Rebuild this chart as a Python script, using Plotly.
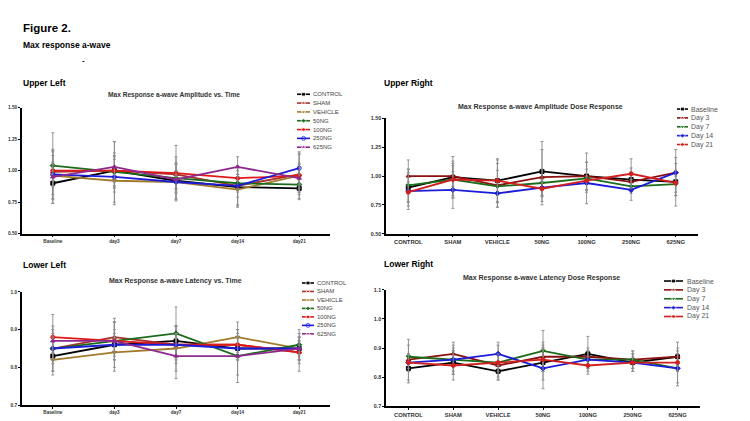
import plotly.graph_objects as go

# The page body has an 8px margin, so the figure is sized to fit inside the window
OFF = 8
VW, VH = 750, 421
W, H = VW - OFF, VH - OFF
FONT = "Liberation Sans, Arial, sans-serif"

# ---------------- data ----------------
time_points = ["Baseline", "day3", "day7", "day14", "day21"]
day_labels = ["Baseline", "Day 3", "Day 7", "Day 14", "Day 21"]
groups = ["CONTROL", "SHAM", "VEHICLE", "50NG", "100NG", "250NG", "625NG"]

# Max response a-wave amplitude (per group, Baseline..day21)
amp_control = [0.90, 1.00, 0.92, 0.87, 0.86]
amp_sham = [0.99, 1.00, 0.97, 0.88, 0.97]
amp_vehicle = [0.96, 0.92, 0.91, 0.85, 0.96]
amp_50ng = [1.04, 0.99, 0.94, 0.90, 0.89]
amp_100ng = [1.00, 1.00, 0.98, 0.94, 0.96]
amp_250ng = [0.97, 0.95, 0.91, 0.88, 1.02]
amp_625ng = [0.95, 1.03, 0.93, 1.03, 0.94]

amp_err_control = [0.16, 0.14, 0.14, 0.16, 0.09]
amp_err_sham = [0.18, 0.09, 0.14, 0.16, 0.16]
amp_err_vehicle = [0.19, 0.19, 0.14, 0.12, 0.18]
amp_err_50ng = [0.26, 0.24, 0.12, 0.07, 0.06]
amp_err_100ng = [0.12, 0.12, 0.22, 0.06, 0.10]
amp_err_250ng = [0.10, 0.08, 0.06, 0.09, 0.13]
amp_err_625ng = [0.21, 0.20, 0.07, 0.08, 0.11]

# Max response a-wave latency (per group, Baseline..day21)
lat_control = [0.83, 0.86, 0.87, 0.85, 0.85]
lat_sham = [0.85, 0.88, 0.86, 0.86, 0.84]
lat_vehicle = [0.82, 0.84, 0.85, 0.88, 0.85]
lat_50ng = [0.85, 0.87, 0.89, 0.83, 0.86]
lat_100ng = [0.88, 0.87, 0.86, 0.86, 0.84]
lat_250ng = [0.85, 0.86, 0.86, 0.85, 0.85]
lat_625ng = [0.87, 0.87, 0.83, 0.83, 0.85]

lat_err_control = [0.05, 0.07, 0.04, 0.03, 0.03]
lat_err_sham = [0.04, 0.04, 0.05, 0.04, 0.05]
lat_err_vehicle = [0.03, 0.04, 0.06, 0.04, 0.03]
lat_err_50ng = [0.06, 0.05, 0.07, 0.07, 0.04]
lat_err_100ng = [0.06, 0.03, 0.03, 0.03, 0.03]
lat_err_250ng = [0.03, 0.03, 0.03, 0.03, 0.02]
lat_err_625ng = [0.03, 0.05, 0.06, 0.05, 0.03]

amp_series = [amp_control, amp_sham, amp_vehicle, amp_50ng, amp_100ng, amp_250ng, amp_625ng]
amp_errs = [amp_err_control, amp_err_sham, amp_err_vehicle, amp_err_50ng,
            amp_err_100ng, amp_err_250ng, amp_err_625ng]
lat_series = [lat_control, lat_sham, lat_vehicle, lat_50ng, lat_100ng, lat_250ng, lat_625ng]
lat_errs = [lat_err_control, lat_err_sham, lat_err_vehicle, lat_err_50ng,
            lat_err_100ng, lat_err_250ng, lat_err_625ng]

# ---------------- styles ----------------
group_colors = ["#000000", "#A8322C", "#A27A2E", "#1B6B1B", "#E01818", "#1C1CD8", "#8E2A8E"]
group_symbols = ["square", "triangle-up", "triangle-down", "diamond", "circle", "circle-open", "triangle-up"]
day_colors = ["#000000", "#8B1010", "#1B6B1B", "#1C1CD8", "#D02020"]
day_symbols = ["square", "triangle-up", "triangle-down", "diamond", "circle"]
ERR_COLOR = "#8a8a8a"


def px(x):
    return (x - OFF) / W


def py(y):
    return 1 - (y - OFF) / H


fig = go.Figure()

panels = {
    "UL": ((22, 330), (106, 234)),
    "UR": ((386, 698), (117, 234)),
    "LL": ((22, 330), (293, 408)),
    "LR": ((386, 700), (291, 409)),
}


def add_series(xa, ya, cats, vals, errs, color, symbol):
    fig.add_trace(go.Scatter(
        x=cats, y=vals, xaxis=xa, yaxis=ya, mode="lines+markers",
        line=dict(color=color, width=1.8),
        marker=dict(symbol=symbol, size=4, color=color, line=dict(color=color, width=1)),
        error_y=dict(type="data", array=errs, visible=True, color=ERR_COLOR,
                     thickness=0.9, width=1.5),
        showlegend=False, hoverinfo="x+y",
    ))


# Upper Left: amplitude vs time
for vals, errs, c, s in zip(amp_series, amp_errs, group_colors, group_symbols):
    add_series("x", "y", time_points, vals, errs, c, s)

# Upper Right: amplitude dose response (same data, by day)
for d in range(len(day_labels)):
    vals = [amp_series[g][d] for g in range(len(groups))]
    errs = [amp_errs[g][d] for g in range(len(groups))]
    add_series("x2", "y2", groups, vals, errs, day_colors[d], day_symbols[d])

# Lower Left: latency vs time
for vals, errs, c, s in zip(lat_series, lat_errs, group_colors, group_symbols):
    add_series("x3", "y3", time_points, vals, errs, c, s)

# Lower Right: latency dose response (same data, by day)
for d in range(len(day_labels)):
    vals = [lat_series[g][d] for g in range(len(groups))]
    errs = [lat_errs[g][d] for g in range(len(groups))]
    add_series("x4", "y4", groups, vals, errs, day_colors[d], day_symbols[d])

# ---------------- manual legends on an overlay pixel axis ----------------
annotations = []


def add_legend(labels, colors, symbols, x0, x1, y0, step, text_x, fsize, fcolor):
    for i, (lab, c, s) in enumerate(zip(labels, colors, symbols)):
        yy = y0 + i * step
        fig.add_trace(go.Scatter(
            x=[x0, (x0 + x1) / 2, x1], y=[yy, yy, yy], xaxis="x5", yaxis="y5",
            mode="lines+markers", line=dict(color=c, width=1.6),
            marker=dict(symbol=s, size=[0, 4, 0], color=c), showlegend=False,
            hoverinfo="skip"))
        annotations.append(dict(x=px(text_x), y=py(yy), xref="paper", yref="paper",
                                text=lab, showarrow=False, xanchor="left", yanchor="middle",
                                font=dict(family=FONT, size=fsize, color=fcolor)))


add_legend(groups, group_colors, group_symbols, 297, 310, 92.5, 8.95, 310.5, 6, "#444444")
add_legend(day_labels, day_colors, day_symbols, 677, 688, 107.5, 9, 689, 7, "#555555")
add_legend(groups, group_colors, group_symbols, 302, 314, 284, 8.6, 315, 6, "#444444")
add_legend(day_labels, day_colors, day_symbols, 664, 683, 282, 9, 684.5, 7, "#555555")


# ---------------- text ----------------
def txt(x, y, s, size, bold=True, color="#000000", anchor="left"):
    annotations.append(dict(x=px(x), y=py(y), xref="paper", yref="paper", text=s,
                            showarrow=False, xanchor=anchor, yanchor="middle",
                            font=dict(family=FONT, size=size, color=color,
                                      weight="bold" if bold else "normal")))


txt(21, 25, "Figure 2.", 11.5)
txt(21, 43, "Max response a-wave", 8.5)
txt(80, 58, "-", 8)
txt(21, 81, "Upper Left", 8.5)
txt(382, 81, "Upper Right", 8.5)
txt(21, 266, "Lower Left", 8.5)
txt(382, 265, "Lower Right", 8.5)

txt(174, 93, "Max Response a-wave Amplitude vs. Time", 6.6, color="#333333", anchor="center")
txt(540, 105, "Max Response a-wave Amplitude Dose Response", 7, color="#333333", anchor="center")
txt(175, 282, "Max Response a-wave Latency vs. Time", 7, color="#333333", anchor="center")
txt(541, 279, "Max Response a-wave Latency Dose Response", 7, color="#333333", anchor="center")


# ---------------- axes ----------------
def xaxis_cfg(xr, cats, fsize, anchor):
    return dict(domain=[px(xr[0]), px(xr[1])], type="category",
                categoryorder="array", categoryarray=cats, anchor=anchor,
                range=[-0.5, len(cats) - 0.5], showline=True, linecolor="#000",
                linewidth=1.5, ticks="outside", ticklen=2, tickwidth=1, tickcolor="#000",
                showgrid=False, zeroline=False, fixedrange=True,
                tickfont=dict(family=FONT, size=fsize, color="#333333", weight="bold"))


def yaxis_cfg(yr, rng, tickvals, fmt, fsize, anchor):
    return dict(domain=[py(yr[1]), py(yr[0])], range=rng, tickvals=tickvals,
                tickformat=fmt, showline=True, linecolor="#000", linewidth=1.5,
                ticks="outside", ticklen=2, tickwidth=1, tickcolor="#000",
                showgrid=False, zeroline=False, anchor=anchor, fixedrange=True,
                tickfont=dict(family=FONT, size=fsize, color="#333333", weight="bold"))


layout = dict(
    width=W, height=H, autosize=False,
    margin=dict(l=0, r=0, t=0, b=0, pad=0),
    paper_bgcolor="white", plot_bgcolor="rgba(0,0,0,0)",
    showlegend=False, annotations=annotations,
    xaxis=xaxis_cfg(panels["UL"][0], time_points, 4.6, "y"),
    yaxis=yaxis_cfg(panels["UL"][1], [0.5, 1.5], [0.5, 0.75, 1.0, 1.25, 1.5], ".2f", 4.8, "x"),
    xaxis2=xaxis_cfg(panels["UR"][0], groups, 5.8, "y2"),
    yaxis2=yaxis_cfg(panels["UR"][1], [0.5, 1.5], [0.5, 0.75, 1.0, 1.25, 1.5], ".2f", 5.4, "x2"),
    xaxis3=xaxis_cfg(panels["LL"][0], time_points, 4.6, "y3"),
    yaxis3=yaxis_cfg(panels["LL"][1], [0.7, 1.0], [0.7, 0.8, 0.9, 1.0], ".1f", 4.8, "x3"),
    xaxis4=xaxis_cfg(panels["LR"][0], groups, 5.8, "y4"),
    yaxis4=yaxis_cfg(panels["LR"][1], [0.7, 1.1], [0.7, 0.8, 0.9, 1.0, 1.1], ".1f", 5.4, "x4"),
    xaxis5=dict(domain=[0, 1], range=[OFF, VW], visible=False, anchor="y5", fixedrange=True),
    yaxis5=dict(domain=[0, 1], range=[VH, OFF], visible=False, anchor="x5", fixedrange=True),
)
fig.update_layout(**layout)

fig.write_html("out.html")
